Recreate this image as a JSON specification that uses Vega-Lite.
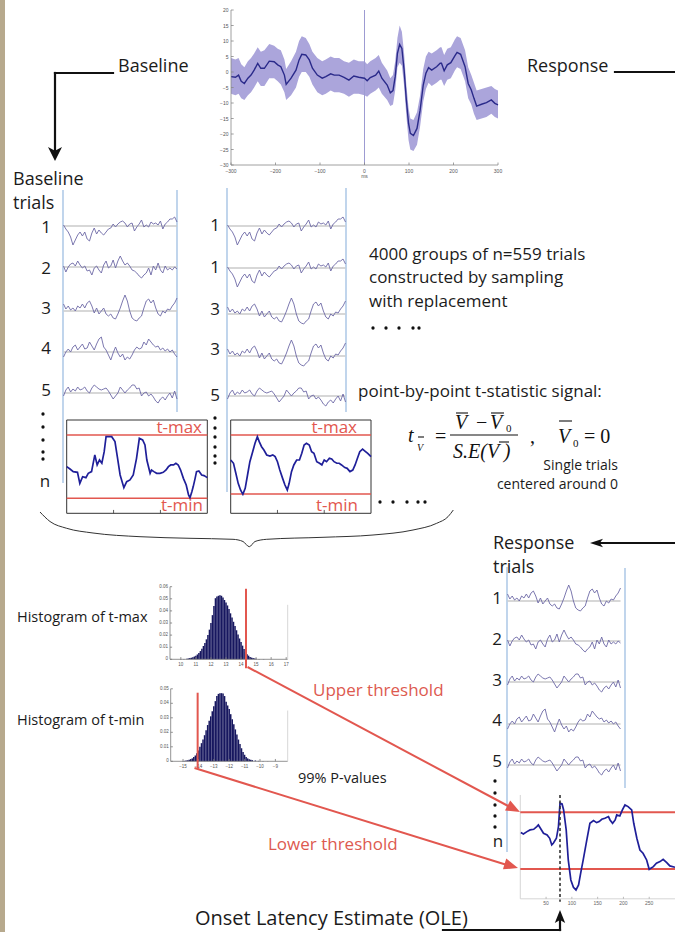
{
"$schema":"https://vega.github.io/schema/vega-lite/v6.json",
"width":675,"height":932,"padding":0,"autosize":"none","background":"#ffffff",
"config":{"view":{"stroke":null},"font":"Open Sans"},
"datasets":{
"erp":[{"ms":-300,"m":-1.5,"lo":-7,"hi":4.5},{"ms":-290,"m":-1.7,"lo":-7.5,"hi":4},{"ms":-283,"m":-1,"lo":-7,"hi":4.5},{"ms":-277,"m":-3,"lo":-8.5,"hi":2.5},{"ms":-270,"m":-3.7,"lo":-9,"hi":1.5},{"ms":-262,"m":-2,"lo":-7.5,"hi":3.5},{"ms":-255,"m":-1,"lo":-6.5,"hi":4.5},{"ms":-248,"m":0.6,"lo":-5,"hi":6},{"ms":-240,"m":2.8,"lo":-3,"hi":8},{"ms":-233,"m":1.2,"lo":-4.5,"hi":6.5},{"ms":-225,"m":1.2,"lo":-4.5,"hi":7},{"ms":-214,"m":3.5,"lo":-2,"hi":9},{"ms":-203,"m":3.3,"lo":-2,"hi":8.5},{"ms":-195,"m":2.3,"lo":-3,"hi":7.5},{"ms":-188,"m":1.7,"lo":-4,"hi":7},{"ms":-180,"m":-1,"lo":-6.5,"hi":4},{"ms":-176,"m":-4,"lo":-9,"hi":1},{"ms":-165,"m":-2,"lo":-7.5,"hi":3.5},{"ms":-154,"m":0.6,"lo":-5,"hi":6.5},{"ms":-147,"m":3.9,"lo":-1.5,"hi":10},{"ms":-141,"m":5.7,"lo":0,"hi":11.5},{"ms":-132,"m":5.5,"lo":0,"hi":11},{"ms":-124,"m":3.9,"lo":-1.5,"hi":9},{"ms":-117,"m":1.2,"lo":-4,"hi":6.5},{"ms":-106,"m":-1,"lo":-6.5,"hi":4.5},{"ms":-95,"m":-2,"lo":-7.5,"hi":3.5},{"ms":-87,"m":-1.5,"lo":-7,"hi":4},{"ms":-76,"m":-0.6,"lo":-6,"hi":5},{"ms":-68,"m":-1,"lo":-6.5,"hi":4.5},{"ms":-57,"m":-1,"lo":-6.5,"hi":4.5},{"ms":-46,"m":-1.7,"lo":-7,"hi":3.5},{"ms":-35,"m":-2.6,"lo":-8,"hi":3},{"ms":-24,"m":-1.3,"lo":-7,"hi":4},{"ms":-13,"m":-1.7,"lo":-7,"hi":3.5},{"ms":0,"m":-2,"lo":-7.5,"hi":3.5},{"ms":6,"m":-2.8,"lo":-8,"hi":2.5},{"ms":13,"m":-1.8,"lo":-7,"hi":3.5},{"ms":25,"m":-1,"lo":-6,"hi":4.5},{"ms":32,"m":0.3,"lo":-5,"hi":5.5},{"ms":39,"m":-2,"lo":-7,"hi":3},{"ms":51,"m":-4.2,"lo":-9,"hi":0.5},{"ms":58,"m":-6.7,"lo":-11,"hi":-2},{"ms":64,"m":-6,"lo":-10.5,"hi":-1},{"ms":69,"m":-1.5,"lo":-6,"hi":3.5},{"ms":74,"m":6,"lo":1.5,"hi":11},{"ms":79,"m":8.9,"lo":3,"hi":15},{"ms":84,"m":7.6,"lo":2,"hi":13},{"ms":89,"m":0.6,"lo":-4.5,"hi":6},{"ms":94,"m":-9,"lo":-14,"hi":-4},{"ms":99,"m":-16.6,"lo":-22,"hi":-11.5},{"ms":103,"m":-19.8,"lo":-25,"hi":-15},{"ms":110,"m":-20.5,"lo":-25.5,"hi":-15.5},{"ms":118,"m":-18.2,"lo":-23.5,"hi":-13},{"ms":125,"m":-12.3,"lo":-17.5,"hi":-7.5},{"ms":132,"m":-4.2,"lo":-9.5,"hi":1},{"ms":138,"m":-0.4,"lo":-5.5,"hi":5},{"ms":144,"m":1.4,"lo":-3.5,"hi":6.5},{"ms":151,"m":0.6,"lo":-4.5,"hi":6},{"ms":162,"m":1.7,"lo":-3.5,"hi":7},{"ms":170,"m":2.8,"lo":-2.5,"hi":8},{"ms":173,"m":2.8,"lo":-2.5,"hi":8},{"ms":179,"m":0.4,"lo":-4.5,"hi":5.5},{"ms":186,"m":2.3,"lo":-2.5,"hi":7.5},{"ms":194,"m":3,"lo":-2,"hi":8},{"ms":203,"m":5.2,"lo":0.5,"hi":10.5},{"ms":208,"m":6.3,"lo":1.5,"hi":11.5},{"ms":216,"m":5.7,"lo":1,"hi":11},{"ms":226,"m":1.7,"lo":-3,"hi":7},{"ms":233,"m":-3.7,"lo":-8.5,"hi":1.5},{"ms":240,"m":-5.8,"lo":-10.5,"hi":-1},{"ms":246,"m":-8.5,"lo":-13.5,"hi":-3.5},{"ms":252,"m":-11,"lo":-15.5,"hi":-6},{"ms":263,"m":-10.4,"lo":-15,"hi":-5.5},{"ms":274,"m":-9.9,"lo":-14.5,"hi":-5},{"ms":285,"m":-9,"lo":-13.5,"hi":-4.5},{"ms":293,"m":-10.1,"lo":-14.5,"hi":-5.5},{"ms":300,"m":-10.6,"lo":-15,"hi":-6}],
"erpx":[{"v":-300},{"v":-200},{"v":-100},{"v":0},{"v":100},{"v":200},{"v":300}],
"erpy":[{"v":-30},{"v":-25},{"v":-20},{"v":-15},{"v":-10},{"v":-5},{"v":0},{"v":5},{"v":10},{"v":15},{"v":20}],
"h1x":[{"v":10},{"v":11},{"v":12},{"v":13},{"v":14},{"v":15},{"v":16},{"v":17}],
"h1y":[{"v":0},{"v":0.01},{"v":0.02},{"v":0.03},{"v":0.04},{"v":0.05},{"v":0.06}],
"h2x":[{"v":-15},{"v":-14},{"v":-13},{"v":-12},{"v":-11},{"v":-10},{"v":-9}],
"h2y":[{"v":0},{"v":0.01},{"v":0.02},{"v":0.03},{"v":0.04},{"v":0.05}],
"fxt":[{"v":50},{"v":100},{"v":150},{"v":200},{"v":250}],
"trials":[{"i":0,"a":1,"b":1,"c":7,"d":-5,"e":-3},{"i":1,"a":-3,"b":-5,"c":2,"d":0,"e":3},{"i":2,"a":-6,"b":0,"c":5,"d":3,"e":6},{"i":3,"a":-11,"b":3,"c":1,"d":0,"e":1},{"i":4,"a":-19,"b":4,"c":3,"d":5,"e":4},{"i":5,"a":-14,"b":1,"c":0,"d":7,"e":2},{"i":6,"a":-9,"b":6,"c":5,"d":2,"e":6},{"i":7,"a":-6,"b":2,"c":3,"d":5,"e":3},{"i":8,"a":-10,"b":-1,"c":7,"d":8,"e":4},{"i":9,"a":-6,"b":1,"c":3,"d":3,"e":6},{"i":10,"a":-13,"b":-4,"c":8,"d":4,"e":2},{"i":11,"a":-15,"b":-3,"c":10,"d":10,"e":0},{"i":12,"a":-7,"b":-8,"c":5,"d":6,"e":5},{"i":13,"a":-2,"b":-1,"c":-2,"d":2,"e":8},{"i":14,"a":-8,"b":1,"c":3,"d":8,"e":6},{"i":15,"a":-4,"b":-3,"c":-3,"d":13,"e":4},{"i":16,"a":-7,"b":-6,"c":0,"d":15,"e":3},{"i":17,"a":-9,"b":2,"c":3,"d":5,"e":4},{"i":18,"a":-6,"b":6,"c":-3,"d":2,"e":5},{"i":19,"a":-3,"b":-1,"c":-5,"d":-3,"e":2},{"i":20,"a":-2,"b":1,"c":-3,"d":-8,"e":-2},{"i":21,"a":2,"b":7,"c":-7,"d":-1,"e":-6},{"i":22,"a":-1,"b":-1,"c":-8,"d":5,"e":-3},{"i":23,"a":2,"b":6,"c":-3,"d":-1,"e":0},{"i":24,"a":4,"b":11,"c":3,"d":-5,"e":6},{"i":25,"a":5,"b":6,"c":10,"d":-2,"e":3},{"i":26,"a":3,"b":2,"c":16,"d":-8,"e":0},{"i":27,"a":-1,"b":4,"c":10,"d":-5,"e":3},{"i":28,"a":2,"b":1,"c":0,"d":-7,"e":5},{"i":29,"a":3,"b":-3,"c":-7,"d":-3,"e":8},{"i":30,"a":-5,"b":-4,"c":-9,"d":2,"e":8},{"i":31,"a":-1,"b":-6,"c":-10,"d":5,"e":4},{"i":32,"a":2,"b":-9,"c":-7,"d":3,"e":5},{"i":33,"a":6,"b":-11,"c":-5,"d":4,"e":-3},{"i":34,"a":-1,"b":-8,"c":3,"d":10,"e":0},{"i":35,"a":1,"b":-6,"c":10,"d":7,"e":1},{"i":36,"a":-1,"b":-1,"c":12,"d":13,"e":-3},{"i":37,"a":4,"b":-8,"c":8,"d":10,"e":-1},{"i":38,"a":2,"b":1,"c":11,"d":7,"e":-4},{"i":39,"a":3,"b":-3,"c":3,"d":5,"e":-8},{"i":40,"a":1,"b":4,"c":-3,"d":6,"e":-10},{"i":41,"a":5,"b":-3,"c":-5,"d":2,"e":-6},{"i":42,"a":-3,"b":-6,"c":0,"d":4,"e":-4},{"i":43,"a":2,"b":1,"c":-2,"d":1,"e":-7},{"i":44,"a":4,"b":-3,"c":2,"d":3,"e":-3},{"i":45,"a":7,"b":-1,"c":1,"d":0,"e":0},{"i":46,"a":7,"b":-3,"c":5,"d":2,"e":-5},{"i":47,"a":9,"b":0,"c":8,"d":-2,"e":2},{"i":48,"a":4,"b":-2,"c":13,"d":-5,"e":-6}],
"box1":[{"ms":-300,"t":0},{"ms":-293,"t":-0.22},{"ms":-286,"t":-0.47},{"ms":-277,"t":-0.54},{"ms":-272,"t":-1.58},{"ms":-266,"t":-0.95},{"ms":-259,"t":-1.04},{"ms":-254,"t":-0.63},{"ms":-247,"t":-0.47},{"ms":-240,"t":1.11},{"ms":-235,"t":0.16},{"ms":-230,"t":0.63},{"ms":-225,"t":0.32},{"ms":-220,"t":1.42},{"ms":-216,"t":2.84},{"ms":-211,"t":2.84},{"ms":-204,"t":2.84},{"ms":-197,"t":2.37},{"ms":-192,"t":0.95},{"ms":-186,"t":-0.79},{"ms":-178,"t":-1.99},{"ms":-172,"t":-1.42},{"ms":-165,"t":-1.26},{"ms":-158,"t":-0.79},{"ms":-151,"t":0.79},{"ms":-145,"t":2.68},{"ms":-138,"t":2.53},{"ms":-133,"t":2.05},{"ms":-129,"t":0.63},{"ms":-122,"t":-0.63},{"ms":-119,"t":-0.32},{"ms":-114,"t":-0.47},{"ms":-108,"t":-0.63},{"ms":-101,"t":-0.63},{"ms":-94,"t":-0.54},{"ms":-88,"t":-0.32},{"ms":-83,"t":0},{"ms":-78,"t":0.16},{"ms":-72,"t":0.16},{"ms":-67,"t":0.32},{"ms":-62,"t":0.16},{"ms":-57,"t":-0.32},{"ms":-51,"t":-1.11},{"ms":-45,"t":-1.74},{"ms":-40,"t":-2.68},{"ms":-37,"t":-2.94},{"ms":-33,"t":-2.37},{"ms":-30,"t":-1.89},{"ms":-26,"t":-1.11},{"ms":-23,"t":-0.47},{"ms":-18,"t":-0.41},{"ms":-12,"t":-0.79},{"ms":-7,"t":-0.85},{"ms":0,"t":-1.04}],
"box2":[{"ms":-300,"t":0.63},{"ms":-294,"t":0.32},{"ms":-289,"t":-0.63},{"ms":-284,"t":-1.58},{"ms":-279,"t":-2.21},{"ms":-274,"t":-2.62},{"ms":-269,"t":-2.05},{"ms":-264,"t":-0.79},{"ms":-259,"t":0.47},{"ms":-253,"t":1.42},{"ms":-248,"t":2.21},{"ms":-243,"t":2.84},{"ms":-239,"t":2.37},{"ms":-234,"t":1.89},{"ms":-229,"t":1.58},{"ms":-223,"t":1.11},{"ms":-216,"t":1.01},{"ms":-210,"t":1.11},{"ms":-205,"t":0.95},{"ms":-200,"t":0.47},{"ms":-195,"t":-0.32},{"ms":-189,"t":-1.11},{"ms":-184,"t":-1.74},{"ms":-179,"t":-2.21},{"ms":-175,"t":-1.58},{"ms":-170,"t":-0.47},{"ms":-165,"t":0.16},{"ms":-159,"t":0.63},{"ms":-153,"t":0.63},{"ms":-148,"t":1.26},{"ms":-143,"t":2.05},{"ms":-138,"t":2.21},{"ms":-132,"t":2.05},{"ms":-127,"t":1.42},{"ms":-122,"t":1.26},{"ms":-116,"t":0.47},{"ms":-110,"t":0.32},{"ms":-105,"t":0.16},{"ms":-100,"t":0.63},{"ms":-95,"t":0.47},{"ms":-89,"t":0.79},{"ms":-84,"t":0.73},{"ms":-79,"t":0.47},{"ms":-73,"t":0.32},{"ms":-68,"t":0.32},{"ms":-63,"t":0.16},{"ms":-56,"t":-0.09},{"ms":-51,"t":-0.16},{"ms":-45,"t":-0.47},{"ms":-39,"t":-0.32},{"ms":-34,"t":0.16},{"ms":-29,"t":0.79},{"ms":-24,"t":1.42},{"ms":-18,"t":1.67},{"ms":-13,"t":1.48},{"ms":-7,"t":1.26},{"ms":0,"t":0.95}],
"hmax":[{"t":10.0,"p":0.0002},{"t":10.2,"p":0.0003},{"t":10.4,"p":0.0005},{"t":10.5,"p":0.0007},{"t":10.6,"p":0.001},{"t":10.7,"p":0.0013},{"t":10.8,"p":0.0017},{"t":10.9,"p":0.0023},{"t":11.0,"p":0.003},{"t":11.1,"p":0.004},{"t":11.2,"p":0.0052},{"t":11.3,"p":0.0068},{"t":11.4,"p":0.0088},{"t":11.5,"p":0.011},{"t":11.6,"p":0.0135},{"t":11.7,"p":0.0165},{"t":11.8,"p":0.02},{"t":11.9,"p":0.0245},{"t":12.0,"p":0.03},{"t":12.1,"p":0.0365},{"t":12.2,"p":0.044},{"t":12.3,"p":0.0505},{"t":12.4,"p":0.052},{"t":12.5,"p":0.0525},{"t":12.6,"p":0.053},{"t":12.7,"p":0.0525},{"t":12.8,"p":0.051},{"t":12.9,"p":0.049},{"t":13.0,"p":0.047},{"t":13.1,"p":0.0445},{"t":13.2,"p":0.0415},{"t":13.3,"p":0.038},{"t":13.4,"p":0.0345},{"t":13.5,"p":0.031},{"t":13.6,"p":0.0275},{"t":13.7,"p":0.024},{"t":13.8,"p":0.0205},{"t":13.9,"p":0.0172},{"t":14.0,"p":0.0142},{"t":14.1,"p":0.0113},{"t":14.2,"p":0.0085},{"t":14.3,"p":0.006},{"t":14.4,"p":0.0042},{"t":14.5,"p":0.003},{"t":14.6,"p":0.002},{"t":14.7,"p":0.0014},{"t":14.8,"p":0.001},{"t":14.9,"p":0.0007},{"t":15.0,"p":0.0005},{"t":15.2,"p":0.0003},{"t":15.5,"p":0.0002}],
"hmin":[{"t":-15.0,"p":0.0002},{"t":-14.9,"p":0.0003},{"t":-14.8,"p":0.0005},{"t":-14.7,"p":0.0007},{"t":-14.6,"p":0.001},{"t":-14.5,"p":0.0015},{"t":-14.4,"p":0.002},{"t":-14.3,"p":0.003},{"t":-14.2,"p":0.004},{"t":-14.1,"p":0.0055},{"t":-14.0,"p":0.0075},{"t":-13.9,"p":0.01},{"t":-13.8,"p":0.0125},{"t":-13.7,"p":0.015},{"t":-13.6,"p":0.018},{"t":-13.5,"p":0.0215},{"t":-13.4,"p":0.025},{"t":-13.3,"p":0.028},{"t":-13.2,"p":0.031},{"t":-13.1,"p":0.0345},{"t":-13.0,"p":0.038},{"t":-12.9,"p":0.0415},{"t":-12.8,"p":0.045},{"t":-12.7,"p":0.0465},{"t":-12.6,"p":0.047},{"t":-12.5,"p":0.047},{"t":-12.4,"p":0.0468},{"t":-12.3,"p":0.045},{"t":-12.2,"p":0.041},{"t":-12.1,"p":0.0385},{"t":-12.0,"p":0.036},{"t":-11.9,"p":0.0325},{"t":-11.8,"p":0.029},{"t":-11.7,"p":0.0255},{"t":-11.6,"p":0.022},{"t":-11.5,"p":0.0185},{"t":-11.4,"p":0.015},{"t":-11.3,"p":0.012},{"t":-11.2,"p":0.009},{"t":-11.1,"p":0.0065},{"t":-11.0,"p":0.0045},{"t":-10.9,"p":0.003},{"t":-10.8,"p":0.002},{"t":-10.7,"p":0.0015},{"t":-10.6,"p":0.001},{"t":-10.5,"p":0.0008},{"t":-10.3,"p":0.0005},{"t":-10.1,"p":0.0003},{"t":-9.8,"p":0.0002},{"t":-9.5,"p":0.0001}],
"resp":[{"ms":1,"t":4.16},{"ms":6,"t":3.49},{"ms":13,"t":4.66},{"ms":19,"t":5.5},{"ms":26,"t":5.83},{"ms":32,"t":7.17},{"ms":35,"t":8},{"ms":39,"t":6.33},{"ms":45,"t":3.83},{"ms":52,"t":2.99},{"ms":57,"t":1.32},{"ms":61,"t":-2.02},{"ms":64,"t":-1.19},{"ms":70,"t":1.32},{"ms":74,"t":7.17},{"ms":77,"t":18.86},{"ms":81,"t":18.53},{"ms":84,"t":15.52},{"ms":89,"t":5.5},{"ms":93,"t":-9.54},{"ms":98,"t":-19.56},{"ms":103,"t":-23.24},{"ms":108,"t":-24.57},{"ms":113,"t":-22.07},{"ms":117,"t":-16.22},{"ms":122,"t":-9.54},{"ms":129,"t":0.48},{"ms":135,"t":8.84},{"ms":142,"t":10.17},{"ms":148,"t":9.17},{"ms":153,"t":9.67},{"ms":158,"t":10.84},{"ms":164,"t":11.34},{"ms":171,"t":12.18},{"ms":174,"t":10.51},{"ms":179,"t":8.84},{"ms":184,"t":10.51},{"ms":187,"t":13.01},{"ms":193,"t":12.51},{"ms":198,"t":15.52},{"ms":203,"t":18.03},{"ms":209,"t":17.19},{"ms":216,"t":15.52},{"ms":220,"t":8.84},{"ms":226,"t":1.32},{"ms":232,"t":-4.53},{"ms":238,"t":-6.2},{"ms":245,"t":-9.54},{"ms":250,"t":-14.22},{"ms":258,"t":-12.88},{"ms":264,"t":-11.21},{"ms":271,"t":-10.37},{"ms":277,"t":-9.2},{"ms":284,"t":-10.87},{"ms":290,"t":-12.54},{"ms":300,"t":-13.21}],
"tan":[{"x":0,"x2":5,"y":0,"y2":932}],
"blue":[{"x":63,"y":190,"x2":63,"y2":483},{"x":177,"y":190,"x2":177,"y2":412},{"x":227,"y":188,"x2":227,"y2":492},{"x":346,"y":188,"x2":346,"y2":412},{"x":507,"y":567,"x2":507,"y2":852},{"x":625,"y":568,"x2":625,"y2":788}],
"brace":[{"x":40,"y":512},{"x":50,"y":521.5},{"x":66.7,"y":528.3},{"x":93,"y":533},{"x":140,"y":536.7},{"x":190,"y":538.3},{"x":233,"y":539.3},{"x":243,"y":541.5},{"x":249.3,"y":546.7},{"x":255,"y":541.5},{"x":266.7,"y":539.3},{"x":323,"y":537.3},{"x":373,"y":535},{"x":413,"y":530},{"x":436.7,"y":523.3},{"x":448,"y":516.7},{"x":453.3,"y":510}],
"black":[{"x":113,"y":73,"x2":55,"y2":73},{"x":55,"y":73,"x2":55,"y2":150},{"x":615,"y":72,"x2":675,"y2":72},{"x":675,"y":543,"x2":598,"y2":543},{"x":443,"y":930,"x2":560,"y2":930},{"x":560,"y":930,"x2":560,"y2":920}],
"red":[{"x":247.5,"y":667,"x2":510,"y2":807},{"x":194.5,"y":768,"x2":507,"y2":865}],
"over":[{"x":456,"y":413,"x2":468,"y2":413},{"x":491,"y":413,"x2":504,"y2":413},{"x":499,"y":442,"x2":509,"y2":442},{"x":559,"y":421,"x2":572,"y2":421},{"x":418,"y":437,"x2":424,"y2":437},{"x":450,"y":435,"x2":518,"y2":435}],
"dots":[{"x":43,"y":414},{"x":43,"y":427},{"x":43,"y":440},{"x":43,"y":452},{"x":43,"y":459},{"x":215,"y":418},{"x":215,"y":428},{"x":215,"y":437},{"x":215,"y":447},{"x":215,"y":456},{"x":215,"y":463},{"x":495,"y":781},{"x":495,"y":793},{"x":495,"y":805},{"x":495,"y":816},{"x":495,"y":827},{"x":373,"y":328},{"x":386,"y":328},{"x":399,"y":328},{"x":413,"y":328},{"x":419,"y":328},{"x":380,"y":502},{"x":393,"y":502},{"x":407,"y":502},{"x":418,"y":502},{"x":425,"y":502}],
"t18":[{"x":118,"y":72,"s":"Baseline"},{"x":527,"y":72,"s":"Response"},{"x":13,"y":185,"s":"Baseline"},{"x":13,"y":209,"s":"trials"},{"x":493,"y":549,"s":"Response"},{"x":493,"y":573,"s":"trials"}],
"tnum":[{"x":46,"y":233,"s":"1"},{"x":46,"y":274,"s":"2"},{"x":46,"y":314,"s":"3"},{"x":46,"y":354,"s":"4"},{"x":46,"y":396,"s":"5"},{"x":45,"y":487,"s":"n"},{"x":215,"y":231,"s":"1"},{"x":215,"y":273,"s":"1"},{"x":215,"y":315,"s":"3"},{"x":215,"y":355,"s":"3"},{"x":215,"y":401,"s":"5"},{"x":497,"y":604,"s":"1"},{"x":497,"y":645,"s":"2"},{"x":497,"y":686,"s":"3"},{"x":497,"y":726,"s":"4"},{"x":497,"y":767,"s":"5"},{"x":498,"y":847,"s":"n"}],
"t17":[{"x":369,"y":260,"s":"4000 groups of n=559 trials"},{"x":369,"y":283,"s":"constructed by sampling"},{"x":369,"y":307,"s":"with replacement"},{"x":358,"y":397,"s":"point-by-point t-statistic signal:"}],
"tredr":[{"x":202,"y":433,"s":"t-max"},{"x":203,"y":511,"s":"t-min"},{"x":357,"y":433,"s":"t-max"},{"x":358,"y":511,"s":"t-min"}],
"tredl":[{"x":313,"y":696,"s":"Upper threshold"},{"x":268,"y":850,"s":"Lower threshold"}],
"t14":[{"x":17,"y":622,"s":"Histogram of t-max"},{"x":17,"y":725,"s":"Histogram of t-min"},{"x":298,"y":783,"s":"99% P-values"}],
"t14r":[{"x":618,"y":470,"s":"Single trials"},{"x":618,"y":489,"s":"centered around 0"}],
"tole":[{"x":195,"y":925,"s":"Onset Latency Estimate (OLE)"}],
"fit":[{"x":408,"y":442,"s":"t"},{"x":455,"y":429,"s":"V"},{"x":490,"y":429,"s":"V"},{"x":453,"y":458,"s":"S.E(V )"},{"x":558,"y":443,"s":"V"}],
"fnorm":[{"x":435,"y":443,"s":"="},{"x":476,"y":429,"s":"−"},{"x":530,"y":443,"s":","},{"x":584,"y":443,"s":"= 0"}],
"fsub":[{"x":506,"y":432,"s":"0"},{"x":573,"y":447,"s":"0"}],
"fsubv":[{"x":417,"y":451,"s":"V"}],
"ahdown":[{"x":55,"y":154}],
"ahleft":[{"x":596.5,"y":543}],
"ahup":[{"x":560,"y":916.5}],
"ahred1":[{"x":513.8,"y":808.7}],
"ahred2":[{"x":511.3,"y":866}]
},
"layer":[
{"layer":[
 {"data":{"name":"tan"},"mark":{"type":"rect","color":"#b7a98d"},"encoding":{"x":{"field":"x","type":"quantitative","scale":{"domain":[0,675],"range":[0,675],"nice":false,"zero":false},"axis":null},"x2":{"field":"x2"},"y":{"field":"y","type":"quantitative","scale":{"domain":[0,932],"range":[0,932],"nice":false,"zero":false},"axis":null},"y2":{"field":"y2"}}},
 {"data":{"name":"blue"},"mark":{"type":"rule","color":"#8db3dd","strokeWidth":1.1},"encoding":{"x":{"field":"x","type":"quantitative","scale":{"domain":[0,675],"range":[0,675],"nice":false,"zero":false},"axis":null},"x2":{"field":"x2"},"y":{"field":"y","type":"quantitative","scale":{"domain":[0,932],"range":[0,932],"nice":false,"zero":false},"axis":null},"y2":{"field":"y2"}}},
 {"data":{"name":"brace"},"mark":{"type":"line","color":"#333333","strokeWidth":1,"interpolate":"monotone"},"encoding":{"x":{"field":"x","type":"quantitative","scale":{"domain":[0,675],"range":[0,675],"nice":false,"zero":false},"axis":null},"y":{"field":"y","type":"quantitative","scale":{"domain":[0,932],"range":[0,932],"nice":false,"zero":false},"axis":null}}}
]},
{"data":{"name":"erp"},"layer":[
 {"mark":{"type":"area","color":"#aba5db","opacity":1},"encoding":{"x":{"field":"ms","type":"quantitative","scale":{"domain":[-300,300],"range":[231,498],"nice":false,"zero":false},"axis":null},"y":{"field":"lo","type":"quantitative","scale":{"domain":[-30,20],"range":[165,10],"nice":false,"zero":false},"axis":null},"y2":{"field":"hi"}}},
 {"data":{"values":[{}]},"mark":{"type":"rule","color":"#9d9bd2","strokeWidth":1},"encoding":{"x":{"datum":0,"type":"quantitative","scale":{"domain":[-300,300],"range":[231,498],"nice":false,"zero":false},"axis":null},"y":{"datum":-30,"type":"quantitative","scale":{"domain":[-30,20],"range":[165,10],"nice":false,"zero":false},"axis":null},"y2":{"datum":20}}},
 {"mark":{"type":"line","color":"#2a2a8a","strokeWidth":1.4},"encoding":{"x":{"field":"ms","type":"quantitative","scale":{"domain":[-300,300],"range":[231,498],"nice":false,"zero":false},"axis":null},"y":{"field":"m","type":"quantitative","scale":{"domain":[-30,20],"range":[165,10],"nice":false,"zero":false},"axis":null}}},
 {"data":{"values":[{}]},"mark":{"type":"rule","color":"#888888","strokeWidth":0.8},"encoding":{"x":{"datum":-300,"type":"quantitative","scale":{"domain":[-300,300],"range":[231,498],"nice":false,"zero":false},"axis":null},"x2":{"datum":300},"y":{"datum":-30,"type":"quantitative","scale":{"domain":[-30,20],"range":[165,10],"nice":false,"zero":false},"axis":null}}},
 {"data":{"values":[{}]},"mark":{"type":"rule","color":"#888888","strokeWidth":0.8},"encoding":{"x":{"datum":-300,"type":"quantitative","scale":{"domain":[-300,300],"range":[231,498],"nice":false,"zero":false},"axis":null},"y":{"datum":-30,"type":"quantitative","scale":{"domain":[-30,20],"range":[165,10],"nice":false,"zero":false},"axis":null},"y2":{"datum":20}}},
 {"data":{"name":"erpx"},"mark":{"type":"rule","color":"#888888","strokeWidth":0.8},"encoding":{"x":{"field":"v","type":"quantitative","scale":{"domain":[-300,300],"range":[231,498],"nice":false,"zero":false},"axis":null},"y":{"datum":-30,"type":"quantitative","scale":{"domain":[-30,20],"range":[165,10],"nice":false,"zero":false},"axis":null},"y2":{"datum":-29.2}}},
 {"data":{"name":"erpy"},"mark":{"type":"rule","color":"#888888","strokeWidth":0.8},"encoding":{"x":{"datum":-300,"type":"quantitative","scale":{"domain":[-300,300],"range":[231,498],"nice":false,"zero":false},"axis":null},"x2":{"datum":-294},"y":{"field":"v","type":"quantitative","scale":{"domain":[-30,20],"range":[165,10],"nice":false,"zero":false},"axis":null}}},
 {"data":{"name":"erpx"},"mark":{"type":"text","font":"Liberation Sans","fontSize":5,"color":"#555555","baseline":"top","dy":3.5},"encoding":{"x":{"field":"v","type":"quantitative","scale":{"domain":[-300,300],"range":[231,498],"nice":false,"zero":false},"axis":null},"y":{"datum":-30,"type":"quantitative","scale":{"domain":[-30,20],"range":[165,10],"nice":false,"zero":false},"axis":null},"text":{"field":"v","type":"quantitative","format":"~g"}}},
 {"data":{"name":"erpy"},"mark":{"type":"text","font":"Liberation Sans","fontSize":5,"color":"#555555","align":"right","baseline":"middle","dx":-2.5},"encoding":{"x":{"datum":-300,"type":"quantitative","scale":{"domain":[-300,300],"range":[231,498],"nice":false,"zero":false},"axis":null},"y":{"field":"v","type":"quantitative","scale":{"domain":[-30,20],"range":[165,10],"nice":false,"zero":false},"axis":null},"text":{"field":"v","type":"quantitative","format":"~g"}}},
 {"data":{"values":[{"s":"ms"}]},"mark":{"type":"text","font":"Liberation Sans","fontSize":5,"color":"#555555","baseline":"top","dy":9},"encoding":{"x":{"datum":0,"type":"quantitative","scale":{"domain":[-300,300],"range":[231,498],"nice":false,"zero":false},"axis":null},"y":{"datum":-30,"type":"quantitative","scale":{"domain":[-30,20],"range":[165,10],"nice":false,"zero":false},"axis":null},"text":{"field":"s"}}}
]},
{"data":{"name":"trials"},"resolve":{"scale":{"y":"independent"}},"layer":[
 {"layer":[{"data":{"values":[{}]},"mark":{"type":"rule","color":"#cacaca","strokeWidth":1.3},"encoding":{"x":{"datum":0,"type":"quantitative","scale":{"domain":[0,48],"range":[63.5,177],"nice":false,"zero":false},"axis":null},"x2":{"datum":48},"y":{"datum":0,"type":"quantitative","scale":{"domain":[-20,20],"range":[246,206],"nice":false,"zero":false},"axis":null}}},{"mark":{"type":"line","color":"#6d69a6","strokeWidth":0.9},"encoding":{"x":{"field":"i","type":"quantitative","scale":{"domain":[0,48],"range":[63.5,177],"nice":false,"zero":false},"axis":null},"y":{"field":"a","type":"quantitative","scale":{"domain":[-20,20],"range":[246,206],"nice":false,"zero":false},"axis":null}}}]},
 {"layer":[{"data":{"values":[{}]},"mark":{"type":"rule","color":"#cacaca","strokeWidth":1.3},"encoding":{"x":{"datum":0,"type":"quantitative","scale":{"domain":[0,48],"range":[63.5,177],"nice":false,"zero":false},"axis":null},"x2":{"datum":48},"y":{"datum":0,"type":"quantitative","scale":{"domain":[-20,20],"range":[287,247],"nice":false,"zero":false},"axis":null}}},{"mark":{"type":"line","color":"#6d69a6","strokeWidth":0.9},"encoding":{"x":{"field":"i","type":"quantitative","scale":{"domain":[0,48],"range":[63.5,177],"nice":false,"zero":false},"axis":null},"y":{"field":"b","type":"quantitative","scale":{"domain":[-20,20],"range":[287,247],"nice":false,"zero":false},"axis":null}}}]},
 {"layer":[{"data":{"values":[{}]},"mark":{"type":"rule","color":"#cacaca","strokeWidth":1.3},"encoding":{"x":{"datum":0,"type":"quantitative","scale":{"domain":[0,48],"range":[63.5,177],"nice":false,"zero":false},"axis":null},"x2":{"datum":48},"y":{"datum":0,"type":"quantitative","scale":{"domain":[-20,20],"range":[331,291],"nice":false,"zero":false},"axis":null}}},{"mark":{"type":"line","color":"#6d69a6","strokeWidth":0.9},"encoding":{"x":{"field":"i","type":"quantitative","scale":{"domain":[0,48],"range":[63.5,177],"nice":false,"zero":false},"axis":null},"y":{"field":"c","type":"quantitative","scale":{"domain":[-20,20],"range":[331,291],"nice":false,"zero":false},"axis":null}}}]},
 {"layer":[{"data":{"values":[{}]},"mark":{"type":"rule","color":"#cacaca","strokeWidth":1.3},"encoding":{"x":{"datum":0,"type":"quantitative","scale":{"domain":[0,48],"range":[63.5,177],"nice":false,"zero":false},"axis":null},"x2":{"datum":48},"y":{"datum":0,"type":"quantitative","scale":{"domain":[-20,20],"range":[372,332],"nice":false,"zero":false},"axis":null}}},{"mark":{"type":"line","color":"#6d69a6","strokeWidth":0.9},"encoding":{"x":{"field":"i","type":"quantitative","scale":{"domain":[0,48],"range":[63.5,177],"nice":false,"zero":false},"axis":null},"y":{"field":"d","type":"quantitative","scale":{"domain":[-20,20],"range":[372,332],"nice":false,"zero":false},"axis":null}}}]},
 {"layer":[{"data":{"values":[{}]},"mark":{"type":"rule","color":"#cacaca","strokeWidth":1.3},"encoding":{"x":{"datum":0,"type":"quantitative","scale":{"domain":[0,48],"range":[63.5,177],"nice":false,"zero":false},"axis":null},"x2":{"datum":48},"y":{"datum":0,"type":"quantitative","scale":{"domain":[-20,20],"range":[413,373],"nice":false,"zero":false},"axis":null}}},{"mark":{"type":"line","color":"#6d69a6","strokeWidth":0.9},"encoding":{"x":{"field":"i","type":"quantitative","scale":{"domain":[0,48],"range":[63.5,177],"nice":false,"zero":false},"axis":null},"y":{"field":"e","type":"quantitative","scale":{"domain":[-20,20],"range":[413,373],"nice":false,"zero":false},"axis":null}}}]}
]},
{"data":{"name":"trials"},"resolve":{"scale":{"y":"independent"}},"layer":[
 {"layer":[{"data":{"values":[{}]},"mark":{"type":"rule","color":"#cacaca","strokeWidth":1.3},"encoding":{"x":{"datum":0,"type":"quantitative","scale":{"domain":[0,48],"range":[227.5,345.5],"nice":false,"zero":false},"axis":null},"x2":{"datum":48},"y":{"datum":0,"type":"quantitative","scale":{"domain":[-20,20],"range":[246,206],"nice":false,"zero":false},"axis":null}}},{"mark":{"type":"line","color":"#6d69a6","strokeWidth":0.9},"encoding":{"x":{"field":"i","type":"quantitative","scale":{"domain":[0,48],"range":[227.5,345.5],"nice":false,"zero":false},"axis":null},"y":{"field":"a","type":"quantitative","scale":{"domain":[-20,20],"range":[246,206],"nice":false,"zero":false},"axis":null}}}]},
 {"layer":[{"data":{"values":[{}]},"mark":{"type":"rule","color":"#cacaca","strokeWidth":1.3},"encoding":{"x":{"datum":0,"type":"quantitative","scale":{"domain":[0,48],"range":[227.5,345.5],"nice":false,"zero":false},"axis":null},"x2":{"datum":48},"y":{"datum":0,"type":"quantitative","scale":{"domain":[-20,20],"range":[288,248],"nice":false,"zero":false},"axis":null}}},{"mark":{"type":"line","color":"#6d69a6","strokeWidth":0.9},"encoding":{"x":{"field":"i","type":"quantitative","scale":{"domain":[0,48],"range":[227.5,345.5],"nice":false,"zero":false},"axis":null},"y":{"field":"a","type":"quantitative","scale":{"domain":[-20,20],"range":[288,248],"nice":false,"zero":false},"axis":null}}}]},
 {"layer":[{"data":{"values":[{}]},"mark":{"type":"rule","color":"#cacaca","strokeWidth":1.3},"encoding":{"x":{"datum":0,"type":"quantitative","scale":{"domain":[0,48],"range":[227.5,345.5],"nice":false,"zero":false},"axis":null},"x2":{"datum":48},"y":{"datum":0,"type":"quantitative","scale":{"domain":[-20,20],"range":[334,294],"nice":false,"zero":false},"axis":null}}},{"mark":{"type":"line","color":"#6d69a6","strokeWidth":0.9},"encoding":{"x":{"field":"i","type":"quantitative","scale":{"domain":[0,48],"range":[227.5,345.5],"nice":false,"zero":false},"axis":null},"y":{"field":"c","type":"quantitative","scale":{"domain":[-20,20],"range":[334,294],"nice":false,"zero":false},"axis":null}}}]},
 {"layer":[{"data":{"values":[{}]},"mark":{"type":"rule","color":"#cacaca","strokeWidth":1.3},"encoding":{"x":{"datum":0,"type":"quantitative","scale":{"domain":[0,48],"range":[227.5,345.5],"nice":false,"zero":false},"axis":null},"x2":{"datum":48},"y":{"datum":0,"type":"quantitative","scale":{"domain":[-20,20],"range":[376,336],"nice":false,"zero":false},"axis":null}}},{"mark":{"type":"line","color":"#6d69a6","strokeWidth":0.9},"encoding":{"x":{"field":"i","type":"quantitative","scale":{"domain":[0,48],"range":[227.5,345.5],"nice":false,"zero":false},"axis":null},"y":{"field":"c","type":"quantitative","scale":{"domain":[-20,20],"range":[376,336],"nice":false,"zero":false},"axis":null}}}]},
 {"layer":[{"data":{"values":[{}]},"mark":{"type":"rule","color":"#cacaca","strokeWidth":1.3},"encoding":{"x":{"datum":0,"type":"quantitative","scale":{"domain":[0,48],"range":[227.5,345.5],"nice":false,"zero":false},"axis":null},"x2":{"datum":48},"y":{"datum":0,"type":"quantitative","scale":{"domain":[-20,20],"range":[416,376],"nice":false,"zero":false},"axis":null}}},{"mark":{"type":"line","color":"#6d69a6","strokeWidth":0.9},"encoding":{"x":{"field":"i","type":"quantitative","scale":{"domain":[0,48],"range":[227.5,345.5],"nice":false,"zero":false},"axis":null},"y":{"field":"e","type":"quantitative","scale":{"domain":[-20,20],"range":[416,376],"nice":false,"zero":false},"axis":null}}}]}
]},
{"data":{"name":"trials"},"resolve":{"scale":{"y":"independent"}},"layer":[
 {"layer":[{"data":{"values":[{}]},"mark":{"type":"rule","color":"#cacaca","strokeWidth":1.3},"encoding":{"x":{"datum":0,"type":"quantitative","scale":{"domain":[0,48],"range":[507.5,620.5],"nice":false,"zero":false},"axis":null},"x2":{"datum":48},"y":{"datum":0,"type":"quantitative","scale":{"domain":[-20,20],"range":[621,581],"nice":false,"zero":false},"axis":null}}},{"mark":{"type":"line","color":"#6d69a6","strokeWidth":0.9},"encoding":{"x":{"field":"i","type":"quantitative","scale":{"domain":[0,48],"range":[507.5,620.5],"nice":false,"zero":false},"axis":null},"y":{"field":"c","type":"quantitative","scale":{"domain":[-20,20],"range":[621,581],"nice":false,"zero":false},"axis":null}}}]},
 {"layer":[{"data":{"values":[{}]},"mark":{"type":"rule","color":"#cacaca","strokeWidth":1.3},"encoding":{"x":{"datum":0,"type":"quantitative","scale":{"domain":[0,48],"range":[507.5,620.5],"nice":false,"zero":false},"axis":null},"x2":{"datum":48},"y":{"datum":0,"type":"quantitative","scale":{"domain":[-20,20],"range":[661,621],"nice":false,"zero":false},"axis":null}}},{"mark":{"type":"line","color":"#6d69a6","strokeWidth":0.9},"encoding":{"x":{"field":"i","type":"quantitative","scale":{"domain":[0,48],"range":[507.5,620.5],"nice":false,"zero":false},"axis":null},"y":{"field":"b","type":"quantitative","scale":{"domain":[-20,20],"range":[661,621],"nice":false,"zero":false},"axis":null}}}]},
 {"layer":[{"data":{"values":[{}]},"mark":{"type":"rule","color":"#cacaca","strokeWidth":1.3},"encoding":{"x":{"datum":0,"type":"quantitative","scale":{"domain":[0,48],"range":[507.5,620.5],"nice":false,"zero":false},"axis":null},"x2":{"datum":48},"y":{"datum":0,"type":"quantitative","scale":{"domain":[-20,20],"range":[702,662],"nice":false,"zero":false},"axis":null}}},{"mark":{"type":"line","color":"#6d69a6","strokeWidth":0.9},"encoding":{"x":{"field":"i","type":"quantitative","scale":{"domain":[0,48],"range":[507.5,620.5],"nice":false,"zero":false},"axis":null},"y":{"field":"e","type":"quantitative","scale":{"domain":[-20,20],"range":[702,662],"nice":false,"zero":false},"axis":null}}}]},
 {"layer":[{"data":{"values":[{}]},"mark":{"type":"rule","color":"#cacaca","strokeWidth":1.3},"encoding":{"x":{"datum":0,"type":"quantitative","scale":{"domain":[0,48],"range":[507.5,620.5],"nice":false,"zero":false},"axis":null},"x2":{"datum":48},"y":{"datum":0,"type":"quantitative","scale":{"domain":[-20,20],"range":[744,704],"nice":false,"zero":false},"axis":null}}},{"mark":{"type":"line","color":"#6d69a6","strokeWidth":0.9},"encoding":{"x":{"field":"i","type":"quantitative","scale":{"domain":[0,48],"range":[507.5,620.5],"nice":false,"zero":false},"axis":null},"y":{"field":"d","type":"quantitative","scale":{"domain":[-20,20],"range":[744,704],"nice":false,"zero":false},"axis":null}}}]},
 {"layer":[{"data":{"values":[{}]},"mark":{"type":"rule","color":"#cacaca","strokeWidth":1.3},"encoding":{"x":{"datum":0,"type":"quantitative","scale":{"domain":[0,48],"range":[507.5,620.5],"nice":false,"zero":false},"axis":null},"x2":{"datum":48},"y":{"datum":0,"type":"quantitative","scale":{"domain":[-20,20],"range":[785,745],"nice":false,"zero":false},"axis":null}}},{"mark":{"type":"line","color":"#6d69a6","strokeWidth":0.9},"encoding":{"x":{"field":"i","type":"quantitative","scale":{"domain":[0,48],"range":[507.5,620.5],"nice":false,"zero":false},"axis":null},"y":{"field":"e","type":"quantitative","scale":{"domain":[-20,20],"range":[785,745],"nice":false,"zero":false},"axis":null}}}]}
]},
{"layer":[
 {"data":{"values":[{}]},"mark":{"type":"rect","fillOpacity":0,"stroke":"#333333","strokeWidth":1},"encoding":{"x":{"datum":-300,"type":"quantitative","scale":{"domain":[-300,0],"range":[66.7,207.3],"nice":false,"zero":false},"axis":null},"x2":{"datum":0},"y":{"datum":-4.42,"type":"quantitative","scale":{"domain":[-4.42,4.42],"range":[513.3,420],"nice":false,"zero":false},"axis":null},"y2":{"datum":4.42}}},
 {"data":{"values":[{"ms":-200},{"ms":-100}]},"mark":{"type":"rule","color":"#333333","strokeWidth":0.8},"encoding":{"x":{"field":"ms","type":"quantitative","scale":{"domain":[-300,0],"range":[66.7,207.3],"nice":false,"zero":false},"axis":null},"y":{"datum":-4.42,"type":"quantitative","scale":{"domain":[-4.42,4.42],"range":[513.3,420],"nice":false,"zero":false},"axis":null},"y2":{"datum":-4.1}}},
 {"data":{"values":[{}]},"mark":{"type":"rule","color":"#e2574f","strokeWidth":1.5},"encoding":{"x":{"datum":-300,"type":"quantitative","scale":{"domain":[-300,0],"range":[66.7,207.3],"nice":false,"zero":false},"axis":null},"x2":{"datum":0},"y":{"datum":3,"type":"quantitative","scale":{"domain":[-4.42,4.42],"range":[513.3,420],"nice":false,"zero":false},"axis":null}}},
 {"data":{"values":[{}]},"mark":{"type":"rule","color":"#e2574f","strokeWidth":1.5},"encoding":{"x":{"datum":-300,"type":"quantitative","scale":{"domain":[-300,0],"range":[66.7,207.3],"nice":false,"zero":false},"axis":null},"x2":{"datum":0},"y":{"datum":-3,"type":"quantitative","scale":{"domain":[-4.42,4.42],"range":[513.3,420],"nice":false,"zero":false},"axis":null}}},
 {"data":{"name":"box1"},"mark":{"type":"line","color":"#1f1f99","strokeWidth":1.7},"encoding":{"x":{"field":"ms","type":"quantitative","scale":{"domain":[-300,0],"range":[66.7,207.3],"nice":false,"zero":false},"axis":null},"y":{"field":"t","type":"quantitative","scale":{"domain":[-4.42,4.42],"range":[513.3,420],"nice":false,"zero":false},"axis":null}}}
]},
{"layer":[
 {"data":{"values":[{}]},"mark":{"type":"rect","fillOpacity":0,"stroke":"#333333","strokeWidth":1},"encoding":{"x":{"datum":-300,"type":"quantitative","scale":{"domain":[-300,0],"range":[230.7,371],"nice":false,"zero":false},"axis":null},"x2":{"datum":0},"y":{"datum":-4.42,"type":"quantitative","scale":{"domain":[-4.42,4.42],"range":[513.3,420],"nice":false,"zero":false},"axis":null},"y2":{"datum":4.42}}},
 {"data":{"values":[{"ms":-200},{"ms":-100}]},"mark":{"type":"rule","color":"#333333","strokeWidth":0.8},"encoding":{"x":{"field":"ms","type":"quantitative","scale":{"domain":[-300,0],"range":[230.7,371],"nice":false,"zero":false},"axis":null},"y":{"datum":-4.42,"type":"quantitative","scale":{"domain":[-4.42,4.42],"range":[513.3,420],"nice":false,"zero":false},"axis":null},"y2":{"datum":-4.1}}},
 {"data":{"values":[{}]},"mark":{"type":"rule","color":"#e2574f","strokeWidth":1.5},"encoding":{"x":{"datum":-300,"type":"quantitative","scale":{"domain":[-300,0],"range":[230.7,371],"nice":false,"zero":false},"axis":null},"x2":{"datum":0},"y":{"datum":3,"type":"quantitative","scale":{"domain":[-4.42,4.42],"range":[513.3,420],"nice":false,"zero":false},"axis":null}}},
 {"data":{"values":[{}]},"mark":{"type":"rule","color":"#e2574f","strokeWidth":1.5},"encoding":{"x":{"datum":-300,"type":"quantitative","scale":{"domain":[-300,0],"range":[230.7,371],"nice":false,"zero":false},"axis":null},"x2":{"datum":0},"y":{"datum":-2.59,"type":"quantitative","scale":{"domain":[-4.42,4.42],"range":[513.3,420],"nice":false,"zero":false},"axis":null}}},
 {"data":{"name":"box2"},"mark":{"type":"line","color":"#1f1f99","strokeWidth":1.7},"encoding":{"x":{"field":"ms","type":"quantitative","scale":{"domain":[-300,0],"range":[230.7,371],"nice":false,"zero":false},"axis":null},"y":{"field":"t","type":"quantitative","scale":{"domain":[-4.42,4.42],"range":[513.3,420],"nice":false,"zero":false},"axis":null}}}
]},
{"layer":[
 {"data":{"name":"hmax"},"mark":{"type":"bar","color":"#17175f","width":1.5},"encoding":{"x":{"field":"t","type":"quantitative","scale":{"domain":[9.28,17.1],"range":[165,292.7],"nice":false,"zero":false},"axis":null},"y":{"field":"p","type":"quantitative","scale":{"domain":[0,0.06],"range":[659.3,586.7],"nice":false,"zero":false},"axis":null}}},
 {"data":{"values":[{}]},"mark":{"type":"rule","color":"#777777","strokeWidth":0.8},"encoding":{"x":{"datum":9.28,"type":"quantitative","scale":{"domain":[9.28,17.1],"range":[165,292.7],"nice":false,"zero":false},"axis":null},"x2":{"datum":17.1},"y":{"datum":0,"type":"quantitative","scale":{"domain":[0,0.06],"range":[659.3,586.7],"nice":false,"zero":false},"axis":null}}},
 {"data":{"values":[{}]},"mark":{"type":"rule","color":"#777777","strokeWidth":0.8},"encoding":{"x":{"datum":9.28,"type":"quantitative","scale":{"domain":[9.28,17.1],"range":[165,292.7],"nice":false,"zero":false},"axis":null},"y":{"datum":0,"type":"quantitative","scale":{"domain":[0,0.06],"range":[659.3,586.7],"nice":false,"zero":false},"axis":null},"y2":{"datum":0.06}}},
 {"data":{"values":[{}]},"mark":{"type":"rule","color":"#cccccc","strokeWidth":0.8},"encoding":{"x":{"datum":17.1,"type":"quantitative","scale":{"domain":[9.28,17.1],"range":[165,292.7],"nice":false,"zero":false},"axis":null},"y":{"datum":0,"type":"quantitative","scale":{"domain":[0,0.06],"range":[659.3,586.7],"nice":false,"zero":false},"axis":null},"y2":{"datum":0.045}}},
 {"data":{"name":"h1x"},"mark":{"type":"rule","color":"#777777","strokeWidth":0.8},"encoding":{"x":{"field":"v","type":"quantitative","scale":{"domain":[9.28,17.1],"range":[165,292.7],"nice":false,"zero":false},"axis":null},"y":{"datum":0,"type":"quantitative","scale":{"domain":[0,0.06],"range":[659.3,586.7],"nice":false,"zero":false},"axis":null},"y2":{"datum":0.0018}}},
 {"data":{"name":"h1y"},"mark":{"type":"rule","color":"#777777","strokeWidth":0.8},"encoding":{"x":{"datum":9.28,"type":"quantitative","scale":{"domain":[9.28,17.1],"range":[165,292.7],"nice":false,"zero":false},"axis":null},"x2":{"datum":9.42},"y":{"field":"v","type":"quantitative","scale":{"domain":[0,0.06],"range":[659.3,586.7],"nice":false,"zero":false},"axis":null}}},
 {"data":{"name":"h1x"},"mark":{"type":"text","font":"Liberation Sans","fontSize":4.5,"color":"#555555","baseline":"top","dy":2.5},"encoding":{"x":{"field":"v","type":"quantitative","scale":{"domain":[9.28,17.1],"range":[165,292.7],"nice":false,"zero":false},"axis":null},"y":{"datum":0,"type":"quantitative","scale":{"domain":[0,0.06],"range":[659.3,586.7],"nice":false,"zero":false},"axis":null},"text":{"field":"v","type":"quantitative","format":"~g"}}},
 {"data":{"name":"h1y"},"mark":{"type":"text","font":"Liberation Sans","fontSize":4.5,"color":"#555555","align":"right","baseline":"middle","dx":-2},"encoding":{"x":{"datum":9.28,"type":"quantitative","scale":{"domain":[9.28,17.1],"range":[165,292.7],"nice":false,"zero":false},"axis":null},"y":{"field":"v","type":"quantitative","scale":{"domain":[0,0.06],"range":[659.3,586.7],"nice":false,"zero":false},"axis":null},"text":{"field":"v","type":"quantitative","format":"~g"}}},
 {"data":{"values":[{}]},"mark":{"type":"rule","color":"#e2574f","strokeWidth":2},"encoding":{"x":{"datum":14.33,"type":"quantitative","scale":{"domain":[9.28,17.1],"range":[165,292.7],"nice":false,"zero":false},"axis":null},"y":{"datum":0.0583,"type":"quantitative","scale":{"domain":[0,0.06],"range":[659.3,586.7],"nice":false,"zero":false},"axis":null},"y2":{"datum":-0.0074}}}
]},
{"layer":[
 {"data":{"name":"hmin"},"mark":{"type":"bar","color":"#17175f","width":1.5},"encoding":{"x":{"field":"t","type":"quantitative","scale":{"domain":[-15.8,-8.2],"range":[165.7,292.7],"nice":false,"zero":false},"axis":null},"y":{"field":"p","type":"quantitative","scale":{"domain":[0,0.05],"range":[761.3,688.8],"nice":false,"zero":false},"axis":null}}},
 {"data":{"values":[{}]},"mark":{"type":"rule","color":"#777777","strokeWidth":0.8},"encoding":{"x":{"datum":-15.8,"type":"quantitative","scale":{"domain":[-15.8,-8.2],"range":[165.7,292.7],"nice":false,"zero":false},"axis":null},"x2":{"datum":-8.2},"y":{"datum":0,"type":"quantitative","scale":{"domain":[0,0.05],"range":[761.3,688.8],"nice":false,"zero":false},"axis":null}}},
 {"data":{"values":[{}]},"mark":{"type":"rule","color":"#777777","strokeWidth":0.8},"encoding":{"x":{"datum":-15.8,"type":"quantitative","scale":{"domain":[-15.8,-8.2],"range":[165.7,292.7],"nice":false,"zero":false},"axis":null},"y":{"datum":0,"type":"quantitative","scale":{"domain":[0,0.05],"range":[761.3,688.8],"nice":false,"zero":false},"axis":null},"y2":{"datum":0.05}}},
 {"data":{"values":[{}]},"mark":{"type":"rule","color":"#cccccc","strokeWidth":0.8},"encoding":{"x":{"datum":-8.2,"type":"quantitative","scale":{"domain":[-15.8,-8.2],"range":[165.7,292.7],"nice":false,"zero":false},"axis":null},"y":{"datum":0,"type":"quantitative","scale":{"domain":[0,0.05],"range":[761.3,688.8],"nice":false,"zero":false},"axis":null},"y2":{"datum":0.035}}},
 {"data":{"name":"h2x"},"mark":{"type":"rule","color":"#777777","strokeWidth":0.8},"encoding":{"x":{"field":"v","type":"quantitative","scale":{"domain":[-15.8,-8.2],"range":[165.7,292.7],"nice":false,"zero":false},"axis":null},"y":{"datum":0,"type":"quantitative","scale":{"domain":[0,0.05],"range":[761.3,688.8],"nice":false,"zero":false},"axis":null},"y2":{"datum":0.0016}}},
 {"data":{"name":"h2y"},"mark":{"type":"rule","color":"#777777","strokeWidth":0.8},"encoding":{"x":{"datum":-15.8,"type":"quantitative","scale":{"domain":[-15.8,-8.2],"range":[165.7,292.7],"nice":false,"zero":false},"axis":null},"x2":{"datum":-15.66},"y":{"field":"v","type":"quantitative","scale":{"domain":[0,0.05],"range":[761.3,688.8],"nice":false,"zero":false},"axis":null}}},
 {"data":{"name":"h2x"},"mark":{"type":"text","font":"Liberation Sans","fontSize":4.5,"color":"#555555","baseline":"top","dy":2.5},"encoding":{"x":{"field":"v","type":"quantitative","scale":{"domain":[-15.8,-8.2],"range":[165.7,292.7],"nice":false,"zero":false},"axis":null},"y":{"datum":0,"type":"quantitative","scale":{"domain":[0,0.05],"range":[761.3,688.8],"nice":false,"zero":false},"axis":null},"text":{"field":"v","type":"quantitative","format":"~g"}}},
 {"data":{"name":"h2y"},"mark":{"type":"text","font":"Liberation Sans","fontSize":4.5,"color":"#555555","align":"right","baseline":"middle","dx":-2},"encoding":{"x":{"datum":-15.8,"type":"quantitative","scale":{"domain":[-15.8,-8.2],"range":[165.7,292.7],"nice":false,"zero":false},"axis":null},"y":{"field":"v","type":"quantitative","scale":{"domain":[0,0.05],"range":[761.3,688.8],"nice":false,"zero":false},"axis":null},"text":{"field":"v","type":"quantitative","format":"~g"}}},
 {"data":{"values":[{}]},"mark":{"type":"rule","color":"#e2574f","strokeWidth":2},"encoding":{"x":{"datum":-14.05,"type":"quantitative","scale":{"domain":[-15.8,-8.2],"range":[165.7,292.7],"nice":false,"zero":false},"axis":null},"y":{"datum":0.0473,"type":"quantitative","scale":{"domain":[0,0.05],"range":[761.3,688.8],"nice":false,"zero":false},"axis":null},"y2":{"datum":-0.0053}}}
]},
{"layer":[
 {"data":{"values":[{}]},"mark":{"type":"rule","color":"#cccccc","strokeWidth":0.8},"encoding":{"x":{"datum":0,"type":"quantitative","scale":{"domain":[0,300],"range":[520.3,675],"nice":false,"zero":false},"axis":null},"x2":{"datum":300},"y":{"datum":-29,"type":"quantitative","scale":{"domain":[-29,23],"range":[898.8,795],"nice":false,"zero":false},"axis":null}}},
 {"data":{"values":[{}]},"mark":{"type":"rule","color":"#cccccc","strokeWidth":0.8},"encoding":{"x":{"datum":0,"type":"quantitative","scale":{"domain":[0,300],"range":[520.3,675],"nice":false,"zero":false},"axis":null},"y":{"datum":-29,"type":"quantitative","scale":{"domain":[-29,23],"range":[898.8,795],"nice":false,"zero":false},"axis":null},"y2":{"datum":23}}},
 {"data":{"name":"fxt"},"mark":{"type":"rule","color":"#aaaaaa","strokeWidth":0.8},"encoding":{"x":{"field":"v","type":"quantitative","scale":{"domain":[0,300],"range":[520.3,675],"nice":false,"zero":false},"axis":null},"y":{"datum":-29,"type":"quantitative","scale":{"domain":[-29,23],"range":[898.8,795],"nice":false,"zero":false},"axis":null},"y2":{"datum":-28}}},
 {"data":{"name":"fxt"},"mark":{"type":"text","font":"Liberation Sans","fontSize":5,"color":"#666666","baseline":"top","dy":2},"encoding":{"x":{"field":"v","type":"quantitative","scale":{"domain":[0,300],"range":[520.3,675],"nice":false,"zero":false},"axis":null},"y":{"datum":-29,"type":"quantitative","scale":{"domain":[-29,23],"range":[898.8,795],"nice":false,"zero":false},"axis":null},"text":{"field":"v","type":"quantitative","format":"~g"}}},
 {"data":{"values":[{}]},"mark":{"type":"rule","color":"#e2574f","strokeWidth":2},"encoding":{"x":{"datum":0,"type":"quantitative","scale":{"domain":[0,300],"range":[520.3,675],"nice":false,"zero":false},"axis":null},"x2":{"datum":300},"y":{"datum":14.35,"type":"quantitative","scale":{"domain":[-29,23],"range":[898.8,795],"nice":false,"zero":false},"axis":null}}},
 {"data":{"values":[{}]},"mark":{"type":"rule","color":"#e2574f","strokeWidth":2},"encoding":{"x":{"datum":0,"type":"quantitative","scale":{"domain":[0,300],"range":[520.3,675],"nice":false,"zero":false},"axis":null},"x2":{"datum":300},"y":{"datum":-14.05,"type":"quantitative","scale":{"domain":[-29,23],"range":[898.8,795],"nice":false,"zero":false},"axis":null}}},
 {"data":{"name":"resp"},"mark":{"type":"line","color":"#1f1f99","strokeWidth":1.7},"encoding":{"x":{"field":"ms","type":"quantitative","scale":{"domain":[0,300],"range":[520.3,675],"nice":false,"zero":false},"axis":null},"y":{"field":"t","type":"quantitative","scale":{"domain":[-29,23],"range":[898.8,795],"nice":false,"zero":false},"axis":null}}},
 {"data":{"values":[{}]},"mark":{"type":"rule","color":"#333333","strokeWidth":1.6,"strokeDash":[3,2.5]},"encoding":{"x":{"datum":77,"type":"quantitative","scale":{"domain":[0,300],"range":[520.3,675],"nice":false,"zero":false},"axis":null},"y":{"datum":23,"type":"quantitative","scale":{"domain":[-29,23],"range":[898.8,795],"nice":false,"zero":false},"axis":null},"y2":{"datum":-30.5}}}
]},
{"layer":[
 {"data":{"name":"black"},"mark":{"type":"rule","color":"#111111","strokeWidth":2.2,"strokeCap":"square"},"encoding":{"x":{"field":"x","type":"quantitative","scale":{"domain":[0,675],"range":[0,675],"nice":false,"zero":false},"axis":null},"x2":{"field":"x2"},"y":{"field":"y","type":"quantitative","scale":{"domain":[0,932],"range":[0,932],"nice":false,"zero":false},"axis":null},"y2":{"field":"y2"}}},
 {"data":{"name":"red"},"mark":{"type":"rule","color":"#e2574f","strokeWidth":2},"encoding":{"x":{"field":"x","type":"quantitative","scale":{"domain":[0,675],"range":[0,675],"nice":false,"zero":false},"axis":null},"x2":{"field":"x2"},"y":{"field":"y","type":"quantitative","scale":{"domain":[0,932],"range":[0,932],"nice":false,"zero":false},"axis":null},"y2":{"field":"y2"}}},
 {"data":{"name":"over"},"mark":{"type":"rule","color":"#111111","strokeWidth":1.1},"encoding":{"x":{"field":"x","type":"quantitative","scale":{"domain":[0,675],"range":[0,675],"nice":false,"zero":false},"axis":null},"x2":{"field":"x2"},"y":{"field":"y","type":"quantitative","scale":{"domain":[0,932],"range":[0,932],"nice":false,"zero":false},"axis":null},"y2":{"field":"y2"}}},
 {"data":{"name":"ahdown"},"mark":{"type":"point","shape":"M0,1L-1,-1L0,-0.45L1,-1Z","filled":true,"opacity":1,"color":"#111111","size":196,"strokeWidth":0},"encoding":{"x":{"field":"x","type":"quantitative","scale":{"domain":[0,675],"range":[0,675],"nice":false,"zero":false},"axis":null},"y":{"field":"y","type":"quantitative","scale":{"domain":[0,932],"range":[0,932],"nice":false,"zero":false},"axis":null}}},
 {"data":{"name":"ahleft"},"mark":{"type":"point","shape":"M-1,0L1,-0.65L0.5,0L1,0.65Z","filled":true,"opacity":1,"color":"#111111","size":169,"strokeWidth":0},"encoding":{"x":{"field":"x","type":"quantitative","scale":{"domain":[0,675],"range":[0,675],"nice":false,"zero":false},"axis":null},"y":{"field":"y","type":"quantitative","scale":{"domain":[0,932],"range":[0,932],"nice":false,"zero":false},"axis":null}}},
 {"data":{"name":"ahup"},"mark":{"type":"point","shape":"M0,-1L0.8,1L0,0.55L-0.8,1Z","filled":true,"opacity":1,"color":"#111111","size":169,"strokeWidth":0},"encoding":{"x":{"field":"x","type":"quantitative","scale":{"domain":[0,675],"range":[0,675],"nice":false,"zero":false},"axis":null},"y":{"field":"y","type":"quantitative","scale":{"domain":[0,932],"range":[0,932],"nice":false,"zero":false},"axis":null}}},
 {"data":{"name":"ahred1"},"mark":{"type":"point","shape":"M1,0L-1,-0.8L-1,0.8Z","filled":true,"opacity":1,"color":"#e2574f","size":196,"strokeWidth":0,"angle":27.8},"encoding":{"x":{"field":"x","type":"quantitative","scale":{"domain":[0,675],"range":[0,675],"nice":false,"zero":false},"axis":null},"y":{"field":"y","type":"quantitative","scale":{"domain":[0,932],"range":[0,932],"nice":false,"zero":false},"axis":null}}},
 {"data":{"name":"ahred2"},"mark":{"type":"point","shape":"M1,0L-1,-0.8L-1,0.8Z","filled":true,"opacity":1,"color":"#e2574f","size":196,"strokeWidth":0,"angle":17},"encoding":{"x":{"field":"x","type":"quantitative","scale":{"domain":[0,675],"range":[0,675],"nice":false,"zero":false},"axis":null},"y":{"field":"y","type":"quantitative","scale":{"domain":[0,932],"range":[0,932],"nice":false,"zero":false},"axis":null}}},
 {"data":{"name":"dots"},"mark":{"type":"point","shape":"circle","filled":true,"opacity":1,"color":"#111111","size":11,"strokeWidth":0},"encoding":{"x":{"field":"x","type":"quantitative","scale":{"domain":[0,675],"range":[0,675],"nice":false,"zero":false},"axis":null},"y":{"field":"y","type":"quantitative","scale":{"domain":[0,932],"range":[0,932],"nice":false,"zero":false},"axis":null}}},
 {"data":{"name":"t18"},"mark":{"type":"text","font":"Open Sans","fontSize":18,"align":"left","baseline":"alphabetic","color":"#1b1b1b"},"encoding":{"x":{"field":"x","type":"quantitative","scale":{"domain":[0,675],"range":[0,675],"nice":false,"zero":false},"axis":null},"y":{"field":"y","type":"quantitative","scale":{"domain":[0,932],"range":[0,932],"nice":false,"zero":false},"axis":null},"text":{"field":"s"}}},
 {"data":{"name":"tnum"},"mark":{"type":"text","font":"Open Sans","fontSize":17,"align":"center","baseline":"alphabetic","color":"#1b1b1b"},"encoding":{"x":{"field":"x","type":"quantitative","scale":{"domain":[0,675],"range":[0,675],"nice":false,"zero":false},"axis":null},"y":{"field":"y","type":"quantitative","scale":{"domain":[0,932],"range":[0,932],"nice":false,"zero":false},"axis":null},"text":{"field":"s"}}},
 {"data":{"name":"t17"},"mark":{"type":"text","font":"Open Sans","fontSize":17,"align":"left","baseline":"alphabetic","color":"#1b1b1b"},"encoding":{"x":{"field":"x","type":"quantitative","scale":{"domain":[0,675],"range":[0,675],"nice":false,"zero":false},"axis":null},"y":{"field":"y","type":"quantitative","scale":{"domain":[0,932],"range":[0,932],"nice":false,"zero":false},"axis":null},"text":{"field":"s"}}},
 {"data":{"name":"tredr"},"mark":{"type":"text","font":"Open Sans","fontSize":17,"align":"right","baseline":"alphabetic","color":"#e2574f"},"encoding":{"x":{"field":"x","type":"quantitative","scale":{"domain":[0,675],"range":[0,675],"nice":false,"zero":false},"axis":null},"y":{"field":"y","type":"quantitative","scale":{"domain":[0,932],"range":[0,932],"nice":false,"zero":false},"axis":null},"text":{"field":"s"}}},
 {"data":{"name":"tredl"},"mark":{"type":"text","font":"Open Sans","fontSize":17,"align":"left","baseline":"alphabetic","color":"#dd5a50"},"encoding":{"x":{"field":"x","type":"quantitative","scale":{"domain":[0,675],"range":[0,675],"nice":false,"zero":false},"axis":null},"y":{"field":"y","type":"quantitative","scale":{"domain":[0,932],"range":[0,932],"nice":false,"zero":false},"axis":null},"text":{"field":"s"}}},
 {"data":{"name":"t14"},"mark":{"type":"text","font":"Open Sans","fontSize":14.5,"align":"left","baseline":"alphabetic","color":"#1b1b1b"},"encoding":{"x":{"field":"x","type":"quantitative","scale":{"domain":[0,675],"range":[0,675],"nice":false,"zero":false},"axis":null},"y":{"field":"y","type":"quantitative","scale":{"domain":[0,932],"range":[0,932],"nice":false,"zero":false},"axis":null},"text":{"field":"s"}}},
 {"data":{"name":"t14r"},"mark":{"type":"text","font":"Open Sans","fontSize":14,"align":"right","baseline":"alphabetic","color":"#1b1b1b"},"encoding":{"x":{"field":"x","type":"quantitative","scale":{"domain":[0,675],"range":[0,675],"nice":false,"zero":false},"axis":null},"y":{"field":"y","type":"quantitative","scale":{"domain":[0,932],"range":[0,932],"nice":false,"zero":false},"axis":null},"text":{"field":"s"}}},
 {"data":{"name":"tole"},"mark":{"type":"text","font":"Open Sans","fontSize":20,"align":"left","baseline":"alphabetic","color":"#1b1b1b"},"encoding":{"x":{"field":"x","type":"quantitative","scale":{"domain":[0,675],"range":[0,675],"nice":false,"zero":false},"axis":null},"y":{"field":"y","type":"quantitative","scale":{"domain":[0,932],"range":[0,932],"nice":false,"zero":false},"axis":null},"text":{"field":"s"}}},
 {"data":{"name":"fit"},"mark":{"type":"text","font":"Liberation Serif","fontStyle":"italic","fontSize":20,"align":"left","baseline":"alphabetic","color":"#111111"},"encoding":{"x":{"field":"x","type":"quantitative","scale":{"domain":[0,675],"range":[0,675],"nice":false,"zero":false},"axis":null},"y":{"field":"y","type":"quantitative","scale":{"domain":[0,932],"range":[0,932],"nice":false,"zero":false},"axis":null},"text":{"field":"s"}}},
 {"data":{"name":"fnorm"},"mark":{"type":"text","font":"Liberation Serif","fontSize":20,"align":"left","baseline":"alphabetic","color":"#111111"},"encoding":{"x":{"field":"x","type":"quantitative","scale":{"domain":[0,675],"range":[0,675],"nice":false,"zero":false},"axis":null},"y":{"field":"y","type":"quantitative","scale":{"domain":[0,932],"range":[0,932],"nice":false,"zero":false},"axis":null},"text":{"field":"s"}}},
 {"data":{"name":"fsub"},"mark":{"type":"text","font":"Liberation Serif","fontSize":11,"align":"left","baseline":"alphabetic","color":"#111111"},"encoding":{"x":{"field":"x","type":"quantitative","scale":{"domain":[0,675],"range":[0,675],"nice":false,"zero":false},"axis":null},"y":{"field":"y","type":"quantitative","scale":{"domain":[0,932],"range":[0,932],"nice":false,"zero":false},"axis":null},"text":{"field":"s"}}},
 {"data":{"name":"fsubv"},"mark":{"type":"text","font":"Liberation Serif","fontStyle":"italic","fontSize":10,"align":"left","baseline":"alphabetic","color":"#111111"},"encoding":{"x":{"field":"x","type":"quantitative","scale":{"domain":[0,675],"range":[0,675],"nice":false,"zero":false},"axis":null},"y":{"field":"y","type":"quantitative","scale":{"domain":[0,932],"range":[0,932],"nice":false,"zero":false},"axis":null},"text":{"field":"s"}}}
]}
],
"resolve":{"scale":{"x":"independent","y":"independent"}}
}
